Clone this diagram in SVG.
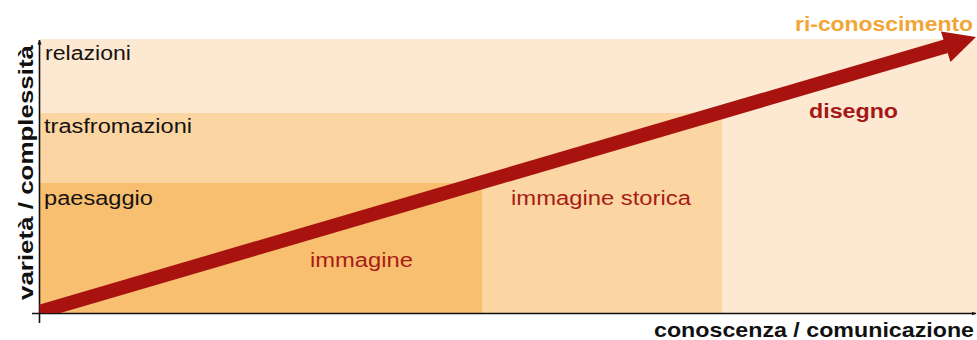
<svg xmlns="http://www.w3.org/2000/svg" width="977" height="340" viewBox="0 0 977 340">
  <style>
    .lbl { font-family: "Liberation Sans", Arial, sans-serif; font-size: 20px; fill: #161210; }
    .red { font-family: "Liberation Sans", Arial, sans-serif; font-size: 20px; fill: #A81C16; }
    .bold { font-family: "Liberation Sans", Arial, sans-serif; font-weight: bold; }
    .axis { stroke: #111; stroke-width: 1.6; fill: none; }
  </style>
  <defs>
    <marker id="axhead" viewBox="0 0 10 10" refX="9" refY="5" markerWidth="5" markerHeight="5" orient="auto" markerUnits="userSpaceOnUse">
      <path d="M0,1 L10,5 L0,9 Z" fill="#111"/>
    </marker>
    <clipPath id="plot">
      <rect x="39.5" y="0" width="940" height="313"/>
    </clipPath>
  </defs>

  <rect width="977" height="340" fill="#ffffff"/>

  <!-- nested bands -->
  <g id="relazioni">
    <rect x="39.5" y="39" width="937.5" height="274" fill="#FDE9D1"/>
    <text class="lbl" x="45" y="60" textLength="86" lengthAdjust="spacingAndGlyphs">relazioni</text>
  </g>
  <g id="trasformazioni">
    <rect x="39.5" y="113" width="682.5" height="200" fill="#FBD5A2"/>
    <text class="lbl" x="44" y="133" textLength="148" lengthAdjust="spacingAndGlyphs">trasfromazioni</text>
  </g>
  <g id="paesaggio">
    <rect x="39.5" y="183" width="442.5" height="130" fill="#F9BF70"/>
    <text class="lbl" x="44" y="205" textLength="109" lengthAdjust="spacingAndGlyphs">paesaggio</text>
  </g>

  <!-- axes and main arrow -->
  <g id="connectors">
    <line class="axis" x1="39.5" y1="323" x2="39.5" y2="40" marker-end="url(#axhead)"/>
    <line class="axis" x1="32" y1="313.5" x2="976" y2="313.5" marker-end="url(#axhead)"/>
    <line x1="30" y1="314.6" x2="946" y2="46.3" stroke="#A8120F" stroke-width="14" clip-path="url(#plot)"/>
    <polygon points="976,37 941,31.5 950.5,62" fill="#A8120F"/>
  </g>

  <g id="immagine">
    <text class="red" x="310" y="267" textLength="103" lengthAdjust="spacingAndGlyphs">immagine</text>
  </g>
  <g id="immagine-storica">
    <text class="red" x="511" y="205" textLength="180" lengthAdjust="spacingAndGlyphs">immagine storica</text>
  </g>
  <g id="disegno">
    <text class="bold" x="809" y="118" font-size="20" fill="#A5181A" textLength="89" lengthAdjust="spacingAndGlyphs">disegno</text>
  </g>
  <g id="ri-conoscimento">
    <text class="bold" x="795" y="31" font-size="20" fill="#F2A535" textLength="178" lengthAdjust="spacingAndGlyphs">ri-conoscimento</text>
  </g>

  <g id="axis-labels">
    <text class="bold" x="654" y="337" font-size="21" fill="#111" textLength="320" lengthAdjust="spacingAndGlyphs">conoscenza / comunicazione</text>
    <text class="bold" transform="translate(33,300) rotate(-90)" x="0" y="0" font-size="21" fill="#111" textLength="255" lengthAdjust="spacingAndGlyphs">varietà / complessità</text>
  </g>
</svg>
